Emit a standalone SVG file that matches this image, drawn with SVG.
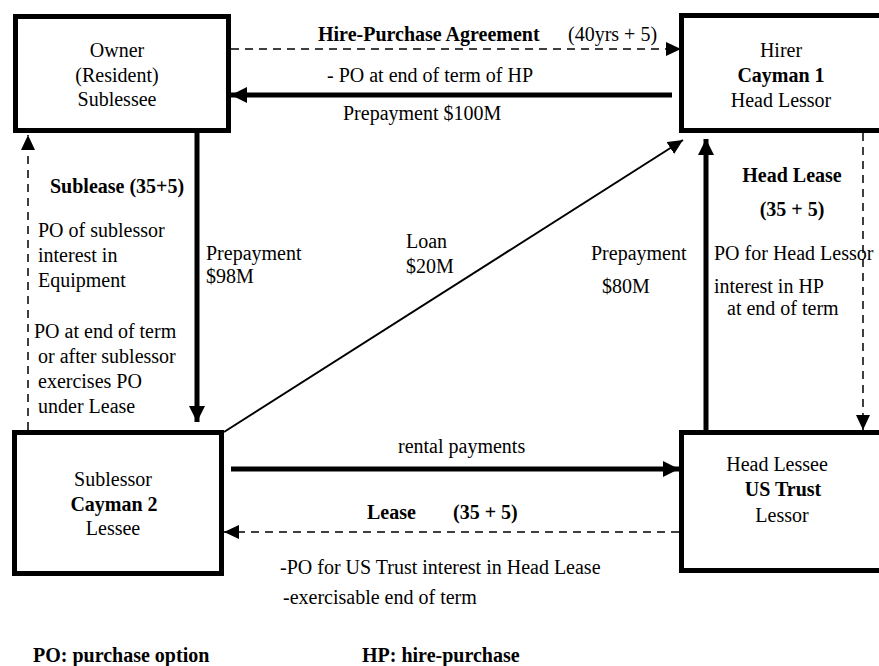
<svg xmlns="http://www.w3.org/2000/svg" width="879" height="666" viewBox="0 0 879 666">
<defs>
<style>
text{font-family:"Liberation Serif","Times New Roman",serif;font-size:20px;fill:#000}
.b{font-weight:bold}
.m{text-anchor:middle}
.box{fill:#fff;stroke:#000;stroke-width:5}
.thick{stroke:#000;stroke-width:5;fill:none}
.thin{stroke:#000;stroke-width:2;fill:none}
.dash{stroke:#000;stroke-width:1.5;fill:none;stroke-dasharray:8 6}
</style>
<marker id="ah" markerUnits="userSpaceOnUse" markerWidth="16" markerHeight="16" refX="16" refY="8" orient="auto" viewBox="0 0 16 16">
<path d="M0,0 L16,8 L0,16 z" fill="#000"/>
</marker>
<marker id="ahs" markerUnits="userSpaceOnUse" markerWidth="15" markerHeight="14" refX="15" refY="7" orient="auto" viewBox="0 0 15 14">
<path d="M0,0 L15,7 L0,14 z" fill="#000"/>
</marker>
</defs>
<rect width="879" height="666" fill="#fff"/>
<g id="connectors">
<line class="dash" x1="231" y1="49" x2="681" y2="49" marker-end="url(#ahs)"/>
<line class="thick" x1="672" y1="95" x2="231" y2="95" marker-end="url(#ah)"/>
<line class="thick" x1="197" y1="133" x2="197" y2="422" marker-end="url(#ah)"/>
<line class="dash" x1="28" y1="430" x2="28" y2="135" marker-end="url(#ahs)"/>
<line class="thin" x1="224" y1="432" x2="683" y2="140" marker-end="url(#ahs)"/>
<line class="thick" x1="706" y1="430" x2="706" y2="139" marker-end="url(#ah)"/>
<line class="dash" x1="863" y1="133" x2="863" y2="430" marker-end="url(#ahs)"/>
<line class="thick" x1="231" y1="469" x2="679" y2="469" marker-end="url(#ah)"/>
<line class="dash" x1="679" y1="532" x2="224" y2="532" marker-end="url(#ahs)"/>
<text x="318" y="41" class="b">Hire-Purchase Agreement</text>
<text x="568" y="41">(40yrs + 5)</text>
<text x="327" y="82">- PO at end of term of HP</text>
<text x="343" y="120">Prepayment $100M</text>
<text x="50" y="193" class="b">Sublease (35+5)</text>
<text x="38" y="237">PO of sublessor</text>
<text x="38" y="262">interest in</text>
<text x="38" y="287">Equipment</text>
<text x="34" y="338">PO at end of term</text>
<text x="38" y="363">or after sublessor</text>
<text x="38" y="388">exercises PO</text>
<text x="38" y="413">under Lease</text>
<text x="206" y="260">Prepayment</text>
<text x="206" y="283">$98M</text>
<text x="406" y="248">Loan</text>
<text x="406" y="273">$20M</text>
<text x="591" y="260">Prepayment</text>
<text x="602" y="293">$80M</text>
<text x="792" y="182" class="b m">Head Lease</text>
<text x="792" y="216" class="b m">(35 + 5)</text>
<text x="714" y="260">PO for Head Lessor</text>
<text x="714" y="293">interest in HP</text>
<text x="727" y="315">at end of term</text>
<text x="398" y="453">rental payments</text>
<text x="367" y="519" class="b">Lease</text>
<text x="453" y="519" class="b">(35 + 5)</text>
<text x="280" y="574">-PO for US Trust interest in Head Lease</text>
<text x="283" y="604">-exercisable end of term</text>
</g>
<g id="owner">
<rect class="box" x="15.5" y="16.5" width="213" height="114"/>
<text x="117" y="57" class="m">Owner</text>
<text x="117" y="82" class="m">(Resident)</text>
<text x="117" y="106" class="m">Sublessee</text>
</g>
<g id="hirer">
<rect class="box" x="681.5" y="15.5" width="210" height="115"/>
<text x="781" y="57" class="m">Hirer</text>
<text x="781" y="82" class="m b">Cayman 1</text>
<text x="781" y="107" class="m">Head Lessor</text>
</g>
<g id="sublessor">
<rect class="box" x="14.5" y="432.5" width="207" height="141"/>
<text x="113" y="486" class="m">Sublessor</text>
<text x="114" y="511" class="m b">Cayman 2</text>
<text x="113" y="535" class="m">Lessee</text>
</g>
<g id="headlessee">
<rect class="box" x="681.5" y="432.5" width="210" height="138"/>
<text x="777" y="471" class="m">Head Lessee</text>
<text x="783" y="496" class="m b">US Trust</text>
<text x="782" y="522" class="m">Lessor</text>
</g>
<g id="legend">
<text x="33" y="662" class="b">PO: purchase option</text>
<text x="362" y="662" class="b">HP: hire-purchase</text>
</g>
</svg>
